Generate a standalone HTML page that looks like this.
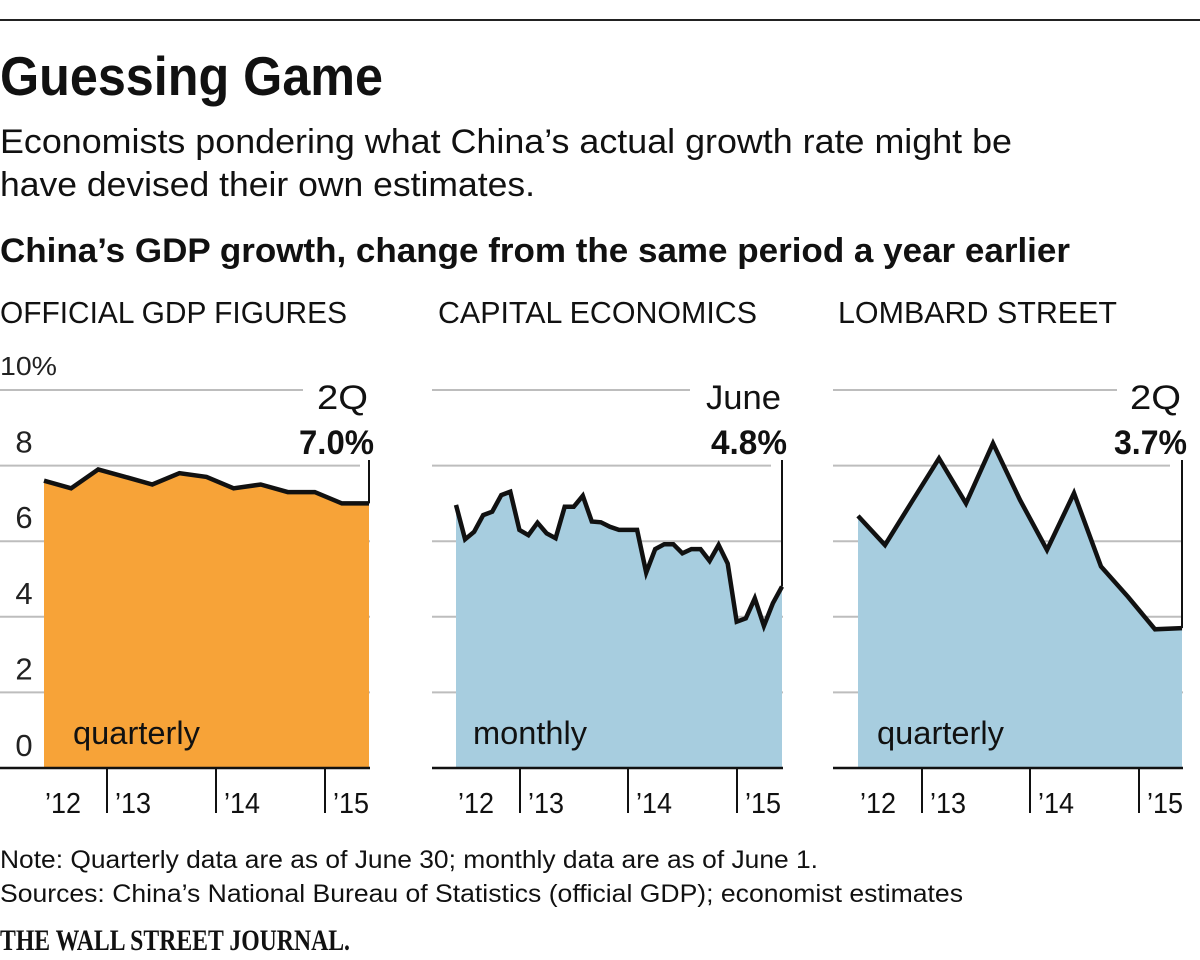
<!DOCTYPE html>
<html><head><meta charset="utf-8">
<style>
html,body{margin:0;padding:0;background:#fff;}
svg{display:block;font-family:"Liberation Sans",sans-serif;}
</style></head>
<body>
<svg id="chart" width="1200" height="960" viewBox="0 0 1200 960" xmlns="http://www.w3.org/2000/svg">
<rect x="0" y="19" width="1200" height="2" fill="#222"/>
<text x="0" y="95" font-size="55" font-weight="bold" textLength="383" lengthAdjust="spacingAndGlyphs" fill="#111">Guessing Game</text>
<text x="0" y="153" font-size="34" textLength="1012" lengthAdjust="spacingAndGlyphs" fill="#111">Economists pondering what China’s actual growth rate might be</text>
<text x="0" y="196" font-size="34" textLength="535" lengthAdjust="spacingAndGlyphs" fill="#111">have devised their own estimates.</text>
<text x="0" y="262" font-size="34" font-weight="bold" textLength="1070" lengthAdjust="spacingAndGlyphs" fill="#111">China’s GDP growth, change from the same period a year earlier</text>
<text x="0" y="323" font-size="31" textLength="347" lengthAdjust="spacingAndGlyphs" fill="#111">OFFICIAL GDP FIGURES</text>
<text x="438" y="323" font-size="31" textLength="319" lengthAdjust="spacingAndGlyphs" fill="#111">CAPITAL ECONOMICS</text>
<text x="838" y="323" font-size="31" textLength="279" lengthAdjust="spacingAndGlyphs" fill="#111">LOMBARD STREET</text>
<g id="panels"></g>
<text x="0" y="868" font-size="25" textLength="818" lengthAdjust="spacingAndGlyphs" fill="#111">Note: Quarterly data are as of June 30; monthly data are as of June 1.</text>
<text x="0" y="902" font-size="25" textLength="963" lengthAdjust="spacingAndGlyphs" fill="#111">Sources: China’s National Bureau of Statistics (official GDP); economist estimates</text>
<text x="0" y="950" font-size="30" font-weight="bold" font-family="Liberation Serif, serif" textLength="350" lengthAdjust="spacingAndGlyphs" fill="#111">THE WALL STREET JOURNAL.</text>
</svg>
<script>
const yTicks = [0, 2, 4, 6, 8, 10];
const yTickLabels = ["0", "2", "4", "6", "8", "10%"];
const yearLabels = ["'12", "'13", "'14", "'15"];
const officialValues = [7.6, 7.4, 7.9, 7.7, 7.5, 7.8, 7.7, 7.4, 7.5, 7.3, 7.3, 7.0, 7.0];
const capitalValues = [6.96, 6.05, 6.25, 6.69, 6.78, 7.22, 7.31, 6.30, 6.16, 6.49, 6.21, 6.08, 6.91, 6.91, 7.20, 6.52, 6.50, 6.38, 6.30, 6.30, 6.30, 5.17, 5.79, 5.92, 5.92, 5.68, 5.79, 5.79, 5.48, 5.90, 5.41, 3.87, 3.96, 4.49, 3.76, 4.36, 4.8];
const lombardValues = [6.67, 5.90, 7.05, 8.19, 7.0, 8.59, 7.09, 5.77, 7.27, 5.33, 4.53, 3.67, 3.7];
const periodLabels = ["2Q", "June", "2Q"];
const lastLabels = ["7.0%", "4.8%", "3.7%"];
const kindLabels = ["quarterly", "monthly", "quarterly"];

const NS = "http://www.w3.org/2000/svg";
const root = document.getElementById("panels");
const baseY = 768, pxPerPct = 37.8;
function yScale(v){ return baseY - v * pxPerPct; }

const panels = [
  {name:"official", values: officialValues, fill:"#f7a338", gx0:0, gx1:370, x0:44, x1:369, ticks:[107,216,325], g10:303, g8:360, showY:true, perW:51, valW:75, kindX:73, kindW:127},
  {name:"capital", values: capitalValues, fill:"#a7cddf", gx0:432, gx1:783, x0:456, x1:782, ticks:[520,628,737], g10:690, g8:771, showY:false, perW:75, valW:76, kindX:473, kindW:114},
  {name:"lombard", values: lombardValues, fill:"#a7cddf", gx0:833, gx1:1183, x0:858, x1:1182, ticks:[922,1030,1139], g10:1117, g8:1170, showY:false, perW:51, valW:73, kindX:877, kindW:127}
];
function mk(tag, attrs, parent){
  const e = document.createElementNS(NS, tag);
  for (const k in attrs) e.setAttribute(k, attrs[k]);
  (parent||root).appendChild(e);
  return e;
}
panels.forEach((p, pi) => {
  const g = mk("g", {});
  
  
  const n = p.values.length;
  const xScale = i => p.x0 + (p.x1 - p.x0) * i / (n - 1);
  yTicks.forEach((t, ti) => {
    if (t === 0) return;
    const end = t === 10 ? p.g10 : (t === 8 ? p.g8 : p.gx1);
    const l = mk("line", {x1:p.gx0, x2:end, y1:yScale(t), y2:yScale(t), stroke:"#bdbdbd", "stroke-width":2}, g);
    
    
    if (p.showY) {
      const isTop = t === 10;
      const tx = mk(isTop ? "text" : "text", isTop ? {x:0, y:375, "font-size":26, fill:"#222", textLength:57, lengthAdjust:"spacingAndGlyphs"} : {x:24, y:yScale(t) - 13, "font-size":31, fill:"#222", "text-anchor":"middle"}, g);
      tx.textContent = yTickLabels[ti];
      
      
    }
  });
  if (p.showY) {
    const t0 = mk("text", {x:24, y:baseY - 12, "font-size":31, fill:"#222", "text-anchor":"middle"}, g);
    t0.textContent = yTickLabels[0];
    
    
  }
  let d = "M" + xScale(0) + "," + baseY;
  p.values.forEach((v, i) => { d += " L" + xScale(i).toFixed(1) + "," + yScale(v).toFixed(1); });
  d += " L" + xScale(n-1) + "," + baseY + " Z";
  const area = mk("path", {d: d, fill: p.fill}, g);
  
  
  let ld = "";
  p.values.forEach((v, i) => { ld += (i ? " L" : "M") + xScale(i).toFixed(1) + "," + yScale(v).toFixed(1); });
  const line = mk("path", {d: ld, fill:"none", stroke:"#111", "stroke-width":4.5, "stroke-linejoin":"miter"}, g);
  
  
  const lx = xScale(n-1);
  const lead = mk("line", {x1:lx, x2:lx, y1:460, y2:yScale(p.values[n-1]), stroke:"#111", "stroke-width":2}, g);
  
  
  const per = mk("text", {x:lx - 1 - p.perW, y:409, "font-size":34, fill:"#111", textLength:p.perW, lengthAdjust:"spacingAndGlyphs"}, g);
  per.textContent = periodLabels[pi];
  
  
  const val = mk("text", {x:lx + 5 - p.valW, y:454, "font-size":34, "font-weight":"bold", fill:"#111", textLength:p.valW, lengthAdjust:"spacingAndGlyphs"}, g);
  val.textContent = lastLabels[pi];
  
  
  const kind = mk("text", {x:p.kindX, y:744, "font-size":32, fill:"#111", textLength:p.kindW, lengthAdjust:"spacingAndGlyphs"}, g);
  kind.textContent = kindLabels[pi];
  
  
  const ax = mk("line", {x1:p.gx0, x2:p.gx1, y1:baseY, y2:baseY, stroke:"#111", "stroke-width":2.5}, g);
  
  
  p.ticks.forEach(tx => {
    const tk = mk("line", {x1:tx, x2:tx, y1:baseY, y2:813, stroke:"#111", "stroke-width":2}, g);
    
    
  });
  yearLabels.forEach((lab, yi) => {
    const x = yi === 0 ? p.ticks[0] - 62 : p.ticks[yi-1] + 8;
    const t = mk("text", {x:x, y:813, "font-size":29, fill:"#111", textLength:36, lengthAdjust:"spacingAndGlyphs"}, g);
    t.textContent = lab.replace("'", "’");
    
    
  });
});
</script>
</body></html>
